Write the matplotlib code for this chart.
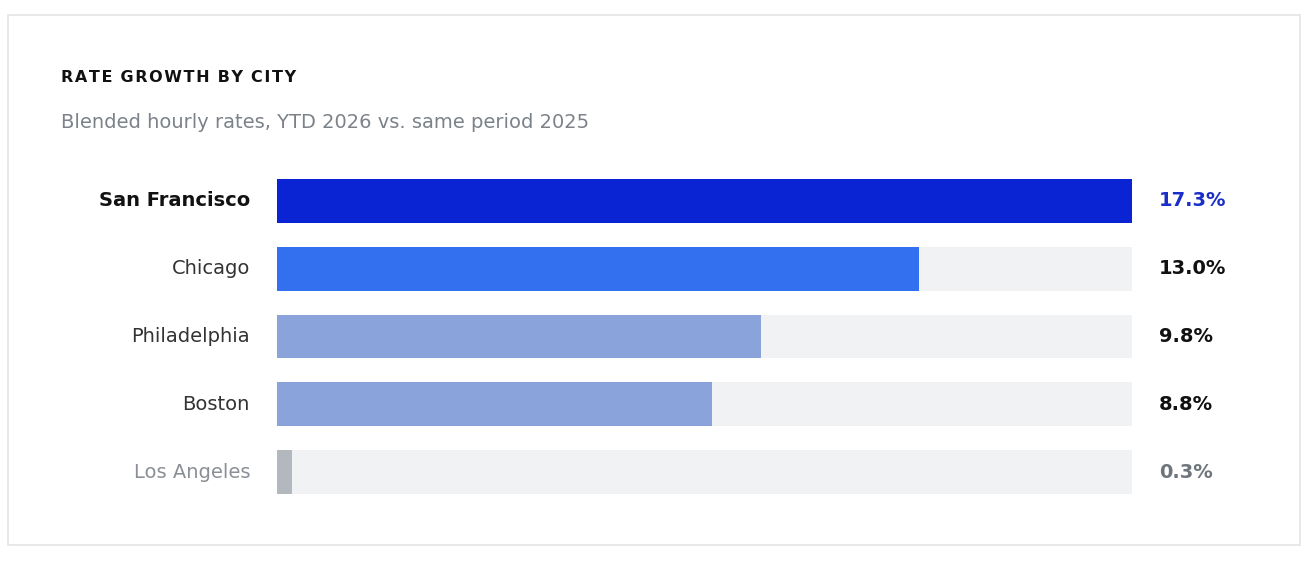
import matplotlib.pyplot as plt
from matplotlib.patches import Rectangle

cities = ["San Francisco", "Chicago", "Philadelphia", "Boston", "Los Angeles"]
growth = [17.3, 13.0, 9.8, 8.8, 0.3]
labels = ["17.3%", "13.0%", "9.8%", "8.8%", "0.3%"]
bar_colors = ["#0a24d4", "#3370f0", "#8aa3db", "#8aa3db", "#b3b8bf"]
label_colors = ["#111111", "#333333", "#333333", "#333333", "#8a8f96"]
value_colors = ["#1a2fc8", "#111111", "#111111", "#111111", "#6f757c"]

W, H = 1308, 566
fig = plt.figure(figsize=(W / 100, H / 100), dpi=100)
fig.patches.append(Rectangle((8 / W, 1 - 545 / H), 1292 / W, 530 / H,
                             transform=fig.transFigure, fill=False,
                             edgecolor="#e3e4e6", linewidth=1.2))

fig.text(61 / W, 1 - 78 / H, "R A T E   G R O W T H   B Y   C I T Y".replace("   ", "\u2002").replace(" ", "\u200a"),
         fontsize=11.5, fontweight="bold", color="#111111", va="center")
fig.text(61 / W, 1 - 123 / H, "Blended hourly rates, YTD 2026 vs. same period 2025",
         fontsize=14, color="#7c8289", va="center")

ax = fig.add_axes([277 / W, 1 - 494 / H, 855 / W, 315 / H])
n = len(cities)
h = 44 / 68
ys = list(range(n))
ax.barh(ys, [growth[0]] * n, height=h, color="#f1f2f4")
ax.barh(ys, growth, height=h, color=bar_colors)
ax.set_xlim(0, growth[0])
ax.set_ylim(n - 1 + h / 2, -h / 2)
ax.axis("off")

for i, (c, v) in enumerate(zip(cities, labels)):
    ax.text(-27 / 855 * growth[0], i, c, ha="right", va="center", fontsize=14,
            color=label_colors[i], fontweight="bold" if i == 0 else "normal")
    ax.text(growth[0] * (1 + 27 / 855), i, v, ha="left", va="center", fontsize=14,
            color=value_colors[i], fontweight="bold")

fig.savefig("out.png", dpi=100, facecolor="white")
